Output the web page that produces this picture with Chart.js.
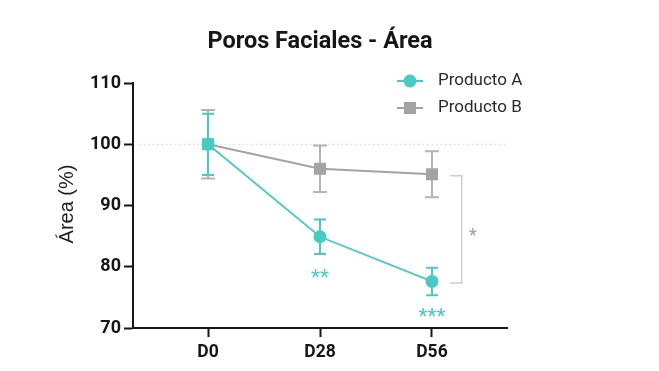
<!DOCTYPE html>
<html>
<head>
<meta charset="utf-8">
<script src="https://cdn.jsdelivr.net/npm/chart.js@4/dist/chart.umd.min.js"></script>
<style>
  html,body{margin:0;padding:0;background:#fff;}
  #wrap{width:659px;height:371px;position:relative;}
</style>
</head>
<body>
<div id="wrap"><canvas id="c"></canvas></div>
<script>
var categories = ['D0', 'D28', 'D56'];
var productoA = [100, 84.9, 77.6];
var errA = [5.0, 2.8, 2.25];
var productoB = [100, 96.0, 95.1];
var errB = [5.6, 3.8, 3.75];
var yTicks = [70, 80, 90, 100, 110];
var sigA = ['', '**', '***'];
var sigAB = '*';

var TEAL = '#47CBC2', GRAY = '#A3A3A3', GRAY_ERR = '#B4B4B4', INK = '#161616';
var FONT = 'Roboto, "Noto Sans", sans-serif';
var SANS = '"Liberation Sans", Arial, sans-serif';

function pts(vals){ return vals.map(function(v,i){ return {x:i, y:v}; }); }

var extras = {
  id:'extras',
  beforeDatasetsDraw:function(chart){
    var ctx=chart.ctx, xs=chart.scales.x, ys=chart.scales.y, a=chart.chartArea;
    // dotted reference line at 100
    ctx.save();
    ctx.strokeStyle='#cfcfcf'; ctx.lineWidth=1.2; ctx.setLineDash([1.5,3]);
    var y0=ys.getPixelForValue(100);
    ctx.beginPath(); ctx.moveTo(a.left+6,y0); ctx.lineTo(a.right,y0); ctx.stroke();
    ctx.restore();
    // error bars (B below A)
    [[productoB,errB,GRAY_ERR,7],[productoA,errA,TEAL,6]].forEach(function(s){
      ctx.save(); ctx.strokeStyle=s[2]; ctx.lineWidth=2;
      s[0].forEach(function(v,i){
        var x=xs.getPixelForValue(i), t=ys.getPixelForValue(v+s[1][i]), b=ys.getPixelForValue(v-s[1][i]), w=s[3];
        ctx.beginPath();
        ctx.moveTo(x,t); ctx.lineTo(x,b);
        ctx.moveTo(x-w,t); ctx.lineTo(x+w,t);
        ctx.moveTo(x-w,b); ctx.lineTo(x+w,b);
        ctx.stroke();
      });
      ctx.restore();
    });
  },
  afterDatasetsDraw:function(chart){
    var ctx=chart.ctx, xs=chart.scales.x, ys=chart.scales.y, a=chart.chartArea;
    ctx.save();
    // significance stars under product A
    ctx.fillStyle=TEAL; ctx.font='21px '+FONT; ctx.textAlign='center'; ctx.textBaseline='middle';
    var starY=[0, 78.0, 71.7];
    sigA.forEach(function(s,i){ if(s) ctx.fillText(s, xs.getPixelForValue(i), ys.getPixelForValue(starY[i])); });
    // bracket between A and B at D56
    var bx=xs.getPixelForValue(2.265), bl=xs.getPixelForValue(2.16);
    var bt=ys.getPixelForValue(94.85), bb=ys.getPixelForValue(77.33);
    ctx.strokeStyle='#cdcdcd'; ctx.lineWidth=1.5;
    ctx.beginPath(); ctx.moveTo(bl,bt); ctx.lineTo(bx,bt); ctx.lineTo(bx,bb); ctx.lineTo(bl,bb); ctx.stroke();
    ctx.fillStyle='#9a9aa8'; ctx.font='18px '+FONT;
    ctx.fillText(sigAB, xs.getPixelForValue(2.366), ys.getPixelForValue(85.0));
    // legend
    var items=[['Producto A',TEAL,'circle',81],['Producto B',GRAY,'rect',108]];
    items.forEach(function(it){
      var y=it[3];
      ctx.strokeStyle=it[1]; ctx.lineWidth=2;
      ctx.beginPath(); ctx.moveTo(397,y); ctx.lineTo(423,y); ctx.stroke();
      ctx.fillStyle=it[1];
      if(it[2]==='circle'){ ctx.beginPath(); ctx.arc(410,y,6.5,0,Math.PI*2); ctx.fill(); }
      else ctx.fillRect(404,y-6,12,12);
      ctx.fillStyle='#2a2a2a'; ctx.font='17px '+FONT; ctx.textAlign='left'; ctx.textBaseline='middle';
      ctx.fillText(it[0],438,y);
    });
    // title
    ctx.fillStyle=INK; ctx.font='bold 23.5px '+FONT; ctx.textAlign='center'; ctx.textBaseline='middle';
    ctx.fillText('Poros Faciales - Área',320,42);
    // y axis title
    ctx.translate(67,204); ctx.rotate(-Math.PI/2);
    ctx.fillStyle='#1e1e1e'; ctx.font='20px '+SANS;
    ctx.fillText('Área (%)',0,0);
    ctx.restore();
  }
};

new Chart(document.getElementById('c'),{
  type:'line',
  data:{datasets:[
    {label:'Producto A', data:pts(productoA), borderColor:TEAL, backgroundColor:TEAL, borderWidth:1.8,
     pointStyle:'circle', pointRadius:6.5, pointBackgroundColor:TEAL, pointBorderWidth:0, tension:0, clip:false},
    {label:'Producto B', data:pts(productoB), borderColor:GRAY, backgroundColor:GRAY, borderWidth:1.8,
     pointStyle:'rect', pointRadius:8.5, pointBackgroundColor:[TEAL,GRAY,GRAY], pointBorderWidth:0, tension:0, clip:false}
  ]},
  options:{
    responsive:true, maintainAspectRatio:false, animation:false,
    layout:{padding:{left:0,top:83,right:152,bottom:0}},
    plugins:{legend:{display:false}, title:{display:false}, tooltip:{enabled:false}},
    scales:{
      x:{type:'linear', min:-0.67, max:2.67,
        afterBuildTicks:function(s){ s.ticks=categories.map(function(c,i){return {value:i};}); },
        afterFit:function(s){ s.height=43; },
        ticks:{callback:function(v){return categories[v];}, autoSkip:false, maxRotation:0, padding:5,
          color:INK, font:{family:FONT, size:17.5, weight:'bold'}},
        grid:{drawOnChartArea:false, drawTicks:true, tickLength:9, tickWidth:2, tickColor:INK},
        border:{color:INK, width:2}},
      y:{min:70, max:110,
        afterBuildTicks:function(s){ s.ticks=yTicks.map(function(v){return {value:v};}); },
        afterFit:function(s){ s.width=133; },
        ticks:{padding:3, color:INK, font:{family:FONT, size:18, weight:'bold'}},
        grid:{drawOnChartArea:false, drawTicks:true, tickLength:9, tickWidth:2, tickColor:INK},
        border:{color:INK, width:2}}
    }
  },
  plugins:[extras]
});
</script>
</body>
</html>
